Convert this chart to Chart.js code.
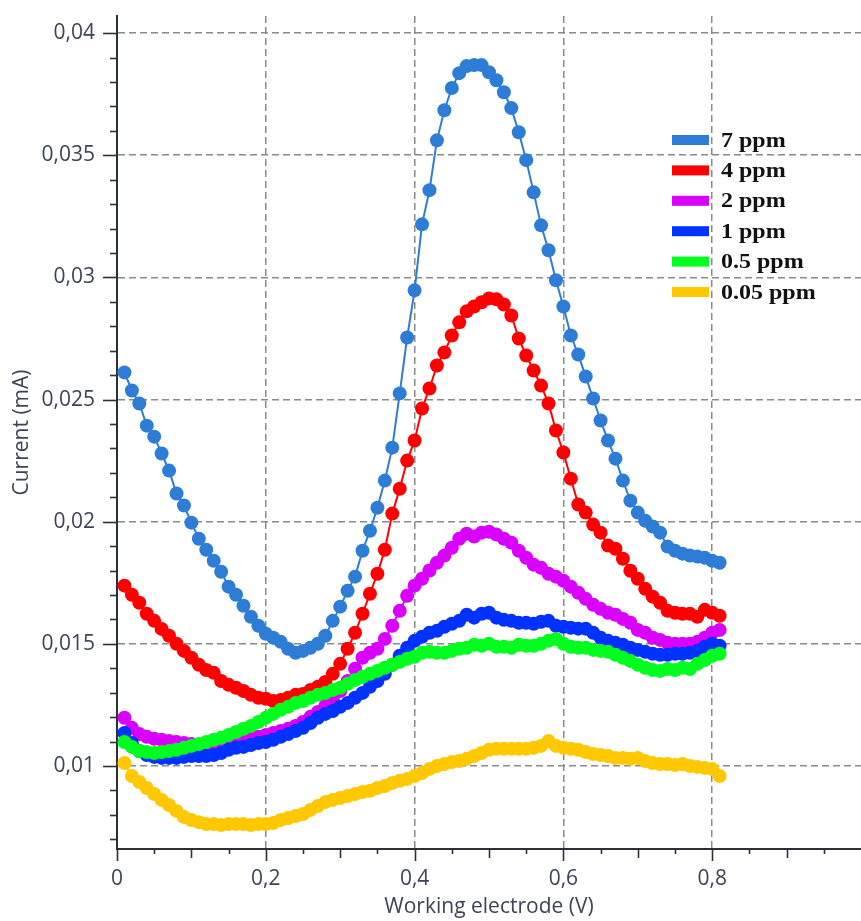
<!DOCTYPE html>
<html><head><meta charset="utf-8">
<script src="https://cdn.jsdelivr.net/npm/chart.js@4.4.1/dist/chart.umd.min.js"></script>
<style>html,body{margin:0;padding:0;background:#fff;overflow:hidden}canvas{display:block}</style>
</head><body>
<canvas id="c" width="861" height="921"></canvas>
<script>
const voltage = [0.01,0.02,0.03,0.04,0.05,0.06,0.07,0.08,0.09,0.10,
0.11,0.12,0.13,0.14,0.15,0.16,0.17,0.18,0.19,0.20,
0.21,0.22,0.23,0.24,0.25,0.26,0.27,0.28,0.29,0.30,
0.31,0.32,0.33,0.34,0.35,0.36,0.37,0.38,0.39,0.40,
0.41,0.42,0.43,0.44,0.45,0.46,0.47,0.48,0.49,0.50,
0.51,0.52,0.53,0.54,0.55,0.56,0.57,0.58,0.59,0.60,
0.61,0.62,0.63,0.64,0.65,0.66,0.67,0.68,0.69,0.70,
0.71,0.72,0.73,0.74,0.75,0.76,0.77,0.78,0.79,0.80,0.81];

const ppm7 = [0.02611,0.02537,0.02484,0.02393,0.02348,0.02279,0.02209,0.02115,0.02066,0.01996,
0.01930,0.01885,0.01840,0.01795,0.01734,0.01701,0.01656,0.01611,0.01574,0.01541,
0.01525,0.01508,0.01480,0.01463,0.01471,0.01484,0.01500,0.01533,0.01594,0.01652,
0.01717,0.01775,0.01881,0.01963,0.02057,0.02168,0.02303,0.02525,0.02754,0.02947,
0.03217,0.03357,0.03561,0.03684,0.03775,0.03836,0.03865,0.03869,0.03869,0.03840,
0.03807,0.03758,0.03693,0.03594,0.03480,0.03348,0.03213,0.03111,0.02988,0.02881,
0.02762,0.02684,0.02594,0.02504,0.02414,0.02332,0.02258,0.02168,0.02086,0.02037,
0.02004,0.01980,0.01955,0.01898,0.01881,0.01869,0.01861,0.01857,0.01852,0.01840,0.01832];

const ppm4 = [0.01738,0.01701,0.01668,0.01623,0.01594,0.01561,0.01533,0.01500,0.01471,0.01443,
0.01414,0.01393,0.01381,0.01348,0.01332,0.01320,0.01307,0.01291,0.01279,0.01275,
0.01266,0.01270,0.01279,0.01291,0.01295,0.01311,0.01324,0.01344,0.01377,0.01418,
0.01480,0.01545,0.01623,0.01705,0.01787,0.01885,0.02033,0.02135,0.02250,0.02332,
0.02463,0.02545,0.02639,0.02693,0.02762,0.02816,0.02861,0.02881,0.02898,0.02914,
0.02910,0.02889,0.02844,0.02750,0.02680,0.02619,0.02557,0.02484,0.02373,0.02283,
0.02176,0.02070,0.02037,0.01988,0.01955,0.01902,0.01889,0.01848,0.01799,0.01766,
0.01725,0.01693,0.01668,0.01635,0.01627,0.01623,0.01623,0.01611,0.01639,0.01627,0.01615];

const ppm2 = [0.01197,0.01156,0.01131,0.01119,0.01111,0.01107,0.01102,0.01098,0.01094,0.01090,
0.01082,0.01078,0.01074,0.01074,0.01078,0.01090,0.01098,0.01111,0.01119,0.01127,
0.01135,0.01143,0.01152,0.01164,0.01180,0.01201,0.01221,0.01246,0.01275,0.01307,
0.01348,0.01398,0.01443,0.01463,0.01480,0.01520,0.01574,0.01635,0.01697,0.01738,
0.01766,0.01800,0.01832,0.01861,0.01893,0.01930,0.01951,0.01939,0.01955,0.01959,
0.01947,0.01930,0.01914,0.01881,0.01852,0.01824,0.01811,0.01787,0.01775,0.01758,
0.01734,0.01709,0.01684,0.01660,0.01643,0.01627,0.01619,0.01602,0.01586,0.01557,
0.01545,0.01525,0.01516,0.01504,0.01500,0.01500,0.01500,0.01508,0.01525,0.01545,0.01557];

const ppm1 = [0.01135,0.01094,0.01061,0.01045,0.01037,0.01033,0.01033,0.01033,0.01037,0.01041,
0.01041,0.01041,0.01045,0.01053,0.01066,0.01074,0.01078,0.01086,0.01094,0.01098,
0.01107,0.01119,0.01131,0.01143,0.01156,0.01176,0.01197,0.01213,0.01225,0.01242,
0.01258,0.01279,0.01299,0.01324,0.01348,0.01377,0.01414,0.01451,0.01484,0.01512,
0.01529,0.01545,0.01553,0.01570,0.01582,0.01594,0.01619,0.01607,0.01623,0.01627,
0.01607,0.01598,0.01594,0.01586,0.01586,0.01582,0.01590,0.01594,0.01574,0.01570,
0.01566,0.01562,0.01562,0.01545,0.01525,0.01512,0.01504,0.01496,0.01484,0.01475,
0.01467,0.01459,0.01455,0.01455,0.01459,0.01459,0.01463,0.01471,0.01488,0.01500,0.01492];

const ppm05 = [0.01098,0.01078,0.01061,0.01057,0.01053,0.01057,0.01061,0.01066,0.01074,0.01082,
0.01090,0.01098,0.01107,0.01115,0.01127,0.01139,0.01152,0.01164,0.01180,0.01197,
0.01213,0.01230,0.01242,0.01258,0.01266,0.01279,0.01291,0.01299,0.01311,0.01320,
0.01336,0.01352,0.01365,0.01377,0.01389,0.01402,0.01414,0.01426,0.01439,0.01447,
0.01463,0.01467,0.01463,0.01463,0.01471,0.01480,0.01484,0.01496,0.01492,0.01500,
0.01488,0.01488,0.01484,0.01496,0.01492,0.01492,0.01500,0.01512,0.01520,0.01500,
0.01488,0.01484,0.01484,0.01475,0.01471,0.01467,0.01455,0.01443,0.01430,0.01414,
0.01402,0.01393,0.01389,0.01397,0.01393,0.01402,0.01397,0.01418,0.01434,0.01451,0.01459];

const ppm005 = [0.01012,0.00959,0.00934,0.00910,0.00885,0.00861,0.00840,0.00816,0.00791,0.00779,
0.00770,0.00762,0.00762,0.00758,0.00762,0.00762,0.00762,0.00758,0.00762,0.00762,
0.00766,0.00779,0.00787,0.00795,0.00803,0.00820,0.00836,0.00852,0.00861,0.00869,
0.00877,0.00885,0.00893,0.00898,0.00910,0.00918,0.00930,0.00939,0.00947,0.00959,
0.00971,0.00988,0.01000,0.01008,0.01016,0.01020,0.01029,0.01041,0.01053,0.01066,
0.01070,0.01070,0.01070,0.01070,0.01070,0.01074,0.01082,0.01102,0.01082,0.01074,
0.01070,0.01066,0.01057,0.01049,0.01045,0.01041,0.01033,0.01033,0.01029,0.01033,
0.01020,0.01012,0.01008,0.01008,0.01004,0.01008,0.01000,0.00996,0.00992,0.00988,0.00959];

const seriesLabels = ['7 ppm','4 ppm','2 ppm','1 ppm','0.5 ppm','0.05 ppm'];
const seriesColors = ['#2d7dd6','#ff0000','#d900ff','#0032ff','#00ff1e','#ffc800'];
const drawOrder = [5,4,3,2,1,6];
const seriesValues = [ppm7, ppm4, ppm2, ppm1, ppm05, ppm005];

const xTickValues = [0,0.05,0.1,0.15,0.2,0.25,0.3,0.35,0.4,0.45,0.5,0.55,0.6,0.65,0.7,0.75,0.8,0.85,0.9,0.95];
const yTickValues = [0.007,0.008,0.009,0.010,0.011,0.012,0.013,0.014,0.015,0.016,0.017,0.018,0.019,0.020,
0.021,0.022,0.023,0.024,0.025,0.026,0.027,0.028,0.029,0.030,0.031,0.032,0.033,0.034,0.035,0.036,0.037,0.038,0.039,0.040];
const xLabelStep = 0.2;
const yLabelStep = 0.005;

const AXIS = '#2b2f36';
const TEXT = '#3d4456';
const GRID = '#8a8a8a';

function isMult(v, step){ const r = v/step; return Math.abs(r - Math.round(r)) < 1e-6; }
function fmt(v){ return String(parseFloat(v.toFixed(4))).replace('.', ','); }

const datasets = seriesValues.map((vals, i) => ({
  label: seriesLabels[i],
  data: voltage.map((x, j) => ({x: x, y: vals[j]})),
  borderColor: seriesColors[i],
  backgroundColor: seriesColors[i],
  pointBackgroundColor: seriesColors[i],
  pointBorderWidth: 0,
  pointRadius: 7,
  pointHoverRadius: 7,
  borderWidth: 2,
  tension: 0,
  order: drawOrder[i]
}));

const decor = {
  id: 'decor',
  afterDraw(chart){
    const {ctx, chartArea: {left, bottom}, scales: {x, y}} = chart;
    ctx.save();
    ctx.strokeStyle = AXIS;
    ctx.lineWidth = 1.6;
    yTickValues.forEach(v => {
      const py = Math.round(y.getPixelForValue(v)) + 0.5;
      const len = isMult(v, yLabelStep) ? 14 : 7;
      ctx.beginPath(); ctx.moveTo(left - len, py); ctx.lineTo(left, py); ctx.stroke();
    });
    xTickValues.forEach(v => {
      const px = Math.round(x.getPixelForValue(v)) + 0.5;
      const len = isMult(v, xLabelStep) ? 12 : (isMult(v, 0.1) ? 9 : 5);
      ctx.beginPath(); ctx.moveTo(px, bottom); ctx.lineTo(px, bottom + len); ctx.stroke();
    });
    // legend
    const bx = 672, by0 = 140, dy = 30.4;
    seriesLabels.forEach((lab, i) => {
      const cy = by0 + i * dy;
      ctx.fillStyle = seriesColors[i];
      ctx.fillRect(bx, cy - 5, 37, 10);
      ctx.save();
      ctx.translate(bx + 49, cy + 6.5);
      ctx.scale(1.2, 1);
      ctx.fillStyle = '#111111';
      ctx.font = 'bold 20px "Liberation Serif", "Times New Roman", serif';
      ctx.textBaseline = 'alphabetic';
      ctx.fillText(lab, 0, 0);
      ctx.restore();
    });
    ctx.restore();
  }
};

new Chart(document.getElementById('c'), {
  type: 'line',
  data: { datasets },
  options: {
    responsive: false,
    animation: false,
    events: [],
    layout: { padding: { top: 16, right: 0, left: 0, bottom: 0 }, autoPadding: false },
    plugins: { legend: { display: false }, tooltip: { enabled: false } },
    scales: {
      x: {
        type: 'linear', min: 0, max: 1,
        afterBuildTicks: s => { s.ticks = xTickValues.map(v => ({value: v})); },
        afterFit: s => { s.height = 72; s.paddingLeft = 0; s.paddingRight = 0; },
        ticks: {
          autoSkip: false, maxRotation: 0, padding: 17,
          color: TEXT, font: { family: '"Open Sans", sans-serif', size: 21 },
          callback: v => (isMult(v, xLabelStep) && v < 0.9) ? fmt(v) : ''
        },
        grid: {
          drawTicks: false, lineWidth: 1.5,
          color: c => (c.tick && c.tick.value > 0 && isMult(c.tick.value, xLabelStep)) ? GRID : 'rgba(0,0,0,0)'
        },
        border: { display: true, color: AXIS, width: 2, dash: [7, 4] },
        title: {
          display: true, text: 'Working electrode (V)', color: TEXT,
          font: { family: '"Open Sans", sans-serif', size: 21 }, padding: { top: 0, bottom: 1 }
        }
      },
      y: {
        type: 'linear', min: 0.0066, max: 0.0407,
        afterBuildTicks: s => { s.ticks = yTickValues.map(v => ({value: v})); },
        afterFit: s => { s.width = 117; s.paddingTop = 0; s.paddingBottom = 0; },
        ticks: {
          autoSkip: false, padding: 22,
          color: TEXT, font: { family: '"Open Sans", sans-serif', size: 21 },
          callback: v => isMult(v, yLabelStep) ? fmt(v) : ''
        },
        grid: {
          drawTicks: false, lineWidth: 1.5,
          color: c => (c.tick && isMult(c.tick.value, yLabelStep)) ? GRID : 'rgba(0,0,0,0)'
        },
        border: { display: true, color: AXIS, width: 2, dash: [7, 4] },
        title: {
          display: true, text: 'Current (mA)', color: TEXT,
          font: { family: '"Open Sans", sans-serif', size: 21 }, padding: { top: 9, bottom: 0 }
        }
      }
    }
  },
  plugins: [decor]
});
</script>
</body></html>
